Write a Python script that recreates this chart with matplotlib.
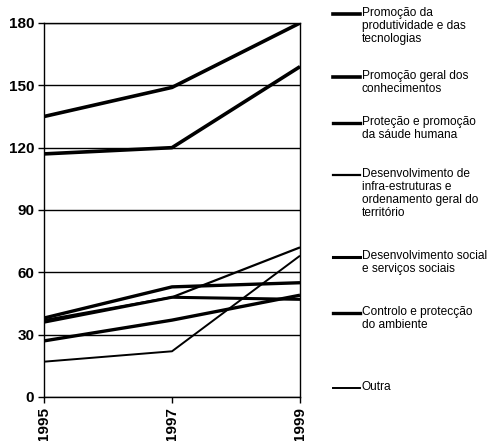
import matplotlib
matplotlib.use("Agg")
import matplotlib.pyplot as plt
from matplotlib.lines import Line2D

anos = [1995, 1997, 1999]

series = [
    "Promoção da\nprodutividade e das\ntecnologias",
    "Promoção geral dos\nconhecimentos",
    "Proteção e promoção\nda sáude humana",
    "Desenvolvimento de\ninfra-estruturas e\nordenamento geral do\nterritório",
    "Desenvolvimento social\ne serviços sociais",
    "Controlo e protecção\ndo ambiente",
    "Outra",
]
valores = [
    [135, 149, 180],
    [117, 120, 159],
    [38, 53, 55],
    [37, 48, 72],
    [36, 48, 47],
    [27, 37, 49],
    [17, 22, 68],
]
espessuras = [2.6, 2.6, 2.4, 1.6, 2.2, 2.4, 1.4]

# posicao vertical (px desde o topo) de cada entrada da legenda
leg_y = [14, 77, 123, 175, 257, 313, 388]

plt.rcParams["font.family"] = ["Liberation Sans", "DejaVu Sans"]

W, H = 501, 441
fig = plt.figure(figsize=(W / 100, H / 100), dpi=100)
ax = fig.add_axes([44 / W, 44 / H, (300 - 44) / W, (397.5 - 23.5) / H])

for vals, lw in zip(valores, espessuras):
    ax.plot(anos, vals, color="black", lw=lw, solid_capstyle="butt")

ax.set_xlim(1995, 1999)
ax.set_ylim(0, 180)
ax.set_yticks(range(0, 181, 30))
ax.set_xticks(anos)
ax.set_xticklabels([str(a) for a in anos], rotation=90, fontsize=11, fontweight="bold")
ax.set_yticklabels([str(v) for v in range(0, 181, 30)], fontsize=11, fontweight="bold")
ax.tick_params(axis="both", length=4, width=1.0, color="black", pad=3)
ax.grid(axis="y", color="black", lw=1.0)
for s in ax.spines.values():
    s.set_color("black")
    s.set_linewidth(1.0)

for lab, y, lw in zip(series, leg_y, espessuras):
    fy = 1 - y / H
    fig.add_artist(Line2D([333 / W, 360 / W], [fy, fy], color="black", lw=lw,
                          transform=fig.transFigure))
    fig.text(362 / W, fy + 7 / H, lab, ha="left", va="top", fontsize=8.6,
             linespacing=1.12)

fig.savefig("out.png", dpi=100)
